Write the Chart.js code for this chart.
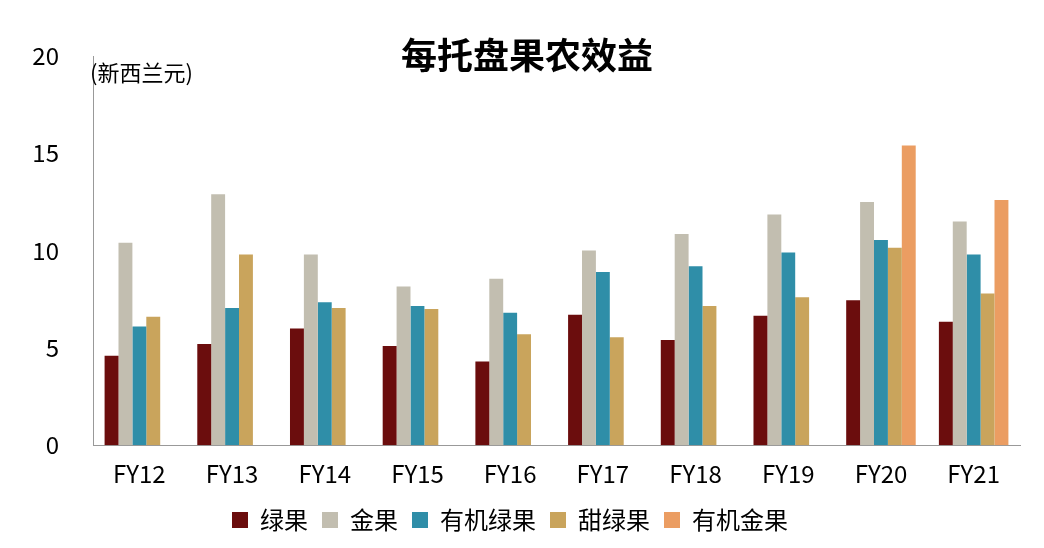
<!DOCTYPE html>
<html><head><meta charset="utf-8">
<script src="https://cdn.jsdelivr.net/npm/chart.js@4/dist/chart.umd.min.js"></script>
<style>html,body{margin:0;background:#fff}</style>
</head><body><canvas id="c" width="1044" height="548"></canvas>
<script>
const categories = ["FY12","FY13","FY14","FY15","FY16","FY17","FY18","FY19","FY20","FY21"];
const greenFruit = [4.6,5.2,6.0,5.1,4.3,6.7,5.4,6.65,7.45,6.35];
const goldFruit = [10.4,12.9,9.8,8.15,8.55,10.0,10.85,11.85,12.5,11.5];
const organicGreen = [6.1,7.05,7.35,7.15,6.8,8.9,9.2,9.9,10.55,9.8];
const sweetGreen = [6.6,9.8,7.05,7.0,5.7,5.55,7.15,7.6,10.15,7.8];
const organicGold = [null,null,null,null,null,null,null,null,15.4,12.6];
const yTicks = [0,5,10,15,20];

const font = "'Noto Sans CJK SC', 'Liberation Sans', sans-serif";
const series = [
  ["绿果", greenFruit, "#6b0d0d"],
  ["金果", goldFruit, "#c2beb0"],
  ["有机绿果", organicGreen, "#2f8ea8"],
  ["甜绿果", sweetGreen, "#c9a45c"],
  ["有机金果", organicGold, "#eb9d62"]
];

const overlay = {
  id: "overlay",
  afterDraw(chart) {
    const ctx = chart.ctx;
    ctx.save();
    ctx.fillStyle = "#000";
    ctx.textBaseline = "middle";
    ctx.textAlign = "center";
    ctx.font = "bold 36px " + font;
    ctx.fillText("每托盘果农效益", 527, 55);
    ctx.textAlign = "left";
    ctx.font = "22px " + font;
    ctx.fillText("(新西兰元)", 90, 73);
    ctx.restore();
  }
};

new Chart(document.getElementById("c"), {
  type: "bar",
  data: {
    labels: categories,
    datasets: series.map(([label, data, color]) => ({
      label, data, backgroundColor: color, borderWidth: 0,
      barPercentage: 1, categoryPercentage: 0.75
    }))
  },
  options: {
    responsive: false,
    animation: false,
    layout: { padding: { top: 56, right: 24, left: 0, bottom: 6 } },
    scales: {
      x: {
        grid: { display: false, drawTicks: true, tickLength: 8 },
        border: { color: "#999" },
        ticks: { color: "#000", font: { size: 24, family: font }, padding: 6 }
      },
      y: {
        min: 0, max: 20,
        afterBuildTicks(s) { s.ticks = yTicks.map(v => ({ value: v })); },
        afterFit(s) { s.width = 93; },
        grid: { display: false, tickLength: 6 },
        border: { color: "#999" },
        ticks: { color: "#000", font: { size: 24, family: font }, padding: 28 }
      }
    },
    plugins: {
      legend: {
        position: "bottom",
        labels: { color: "#000", font: { size: 24, family: font }, boxWidth: 16, boxHeight: 16, padding: 14 }
      },
      tooltip: { enabled: false }
    }
  },
  plugins: [overlay]
});
</script>
</body></html>
